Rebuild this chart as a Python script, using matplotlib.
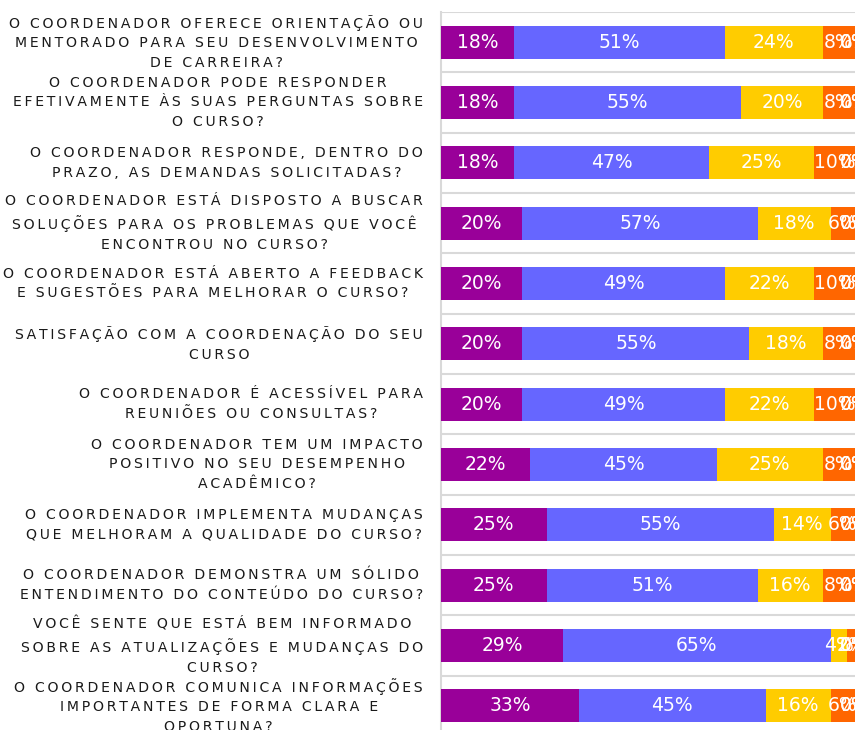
import numpy as np
import matplotlib
matplotlib.use("Agg")
import matplotlib.pyplot as plt

questions = [
    "O COORDENADOR OFERECE ORIENTAÇÃO OU\nMENTORADO PARA SEU DESENVOLVIMENTO\nDE CARREIRA?",
    "O COORDENADOR PODE RESPONDER\nEFETIVAMENTE ÀS SUAS PERGUNTAS SOBRE\nO CURSO?",
    "O COORDENADOR RESPONDE, DENTRO DO\nPRAZO, AS DEMANDAS SOLICITADAS?",
    "O COORDENADOR ESTÁ DISPOSTO A BUSCAR\nSOLUÇÕES PARA OS PROBLEMAS QUE VOCÊ\nENCONTROU NO CURSO?",
    "O COORDENADOR ESTÁ ABERTO A FEEDBACK\nE SUGESTÕES PARA MELHORAR O CURSO?",
    "SATISFAÇÃO COM A COORDENAÇÃO DO SEU\nCURSO",
    "O COORDENADOR É ACESSÍVEL PARA\nREUNIÕES OU CONSULTAS?",
    "O COORDENADOR TEM UM IMPACTO\nPOSITIVO NO SEU DESEMPENHO\nACADÊMICO?",
    "O COORDENADOR IMPLEMENTA MUDANÇAS\nQUE MELHORAM A QUALIDADE DO CURSO?",
    "O COORDENADOR DEMONSTRA UM SÓLIDO\nENTENDIMENTO DO CONTEÚDO DO CURSO?",
    "VOCÊ SENTE QUE ESTÁ BEM INFORMADO\nSOBRE AS ATUALIZAÇÕES E MUDANÇAS DO\nCURSO?",
    "O COORDENADOR COMUNICA INFORMAÇÕES\nIMPORTANTES DE FORMA CLARA E\nOPORTUNA?",
]

# percentages per answer level
level_1 = [17.65, 17.65, 17.65, 19.61, 19.61, 19.61, 19.61, 21.57, 25.49, 25.49, 29.41, 33.33]
level_2 = [50.98, 54.90, 47.06, 56.86, 49.02, 54.90, 49.02, 45.10, 54.90, 50.98, 64.71, 45.10]
level_3 = [23.53, 19.61, 25.49, 17.65, 21.57, 17.65, 21.57, 25.49, 13.73, 15.69, 3.92, 15.69]
level_4 = [7.84, 7.84, 9.80, 5.88, 9.80, 7.84, 9.80, 7.84, 5.88, 7.84, 1.96, 5.88]
level_5 = [0.0] * 12
level_6 = [0.0] * 12

series = [level_1, level_2, level_3, level_4, level_5, level_6]
colors = ["#990099", "#6666FF", "#FFCC00", "#FF6600", "#C00000", "#7F7F7F"]


def spaced(s):
    # imitate the wide letter spacing of the original labels
    return "\n".join("\u2009".join(line) for line in s.split("\n"))


fig = plt.figure(figsize=(8.58, 7.30), dpi=100)
ax = fig.add_axes([0.514, -0.0082, 0.4825, 0.9918])

y = np.arange(len(questions))
left = np.zeros(len(questions))
for vals, col in zip(series, colors):
    vals = np.array(vals)
    ax.barh(y, vals, left=left, height=0.55, color=col, zorder=3)
    for yi, (l, v) in enumerate(zip(left, vals)):
        ax.text(l + v / 2, yi, "{:.0f}%".format(v), ha="center", va="center",
                color="white", fontsize=13.5, zorder=4, clip_on=False)
    left = left + vals

ax.set_xlim(0, 100)
ax.set_ylim(len(questions) - 0.5, -0.5)
ax.set_yticks(y)
ax.set_yticklabels([spaced(q) for q in questions], fontsize=10.1,
                   color="#1A1A1A", multialignment="center", linespacing=1.5)
for lab in ax.get_yticklabels():
    lab.set_va("center")
ax.tick_params(axis="y", length=0, pad=13)
ax.set_xticks([])

# category separators
for b in np.arange(-0.5, len(questions), 1.0):
    ax.axhline(b, color="#D9D9D9", linewidth=1.5, zorder=1)

for side in ["top", "right", "bottom"]:
    ax.spines[side].set_visible(False)
ax.spines["left"].set_color("#D9D9D9")
ax.spines["left"].set_linewidth(1.5)

fig.savefig("out.png", dpi=100)
